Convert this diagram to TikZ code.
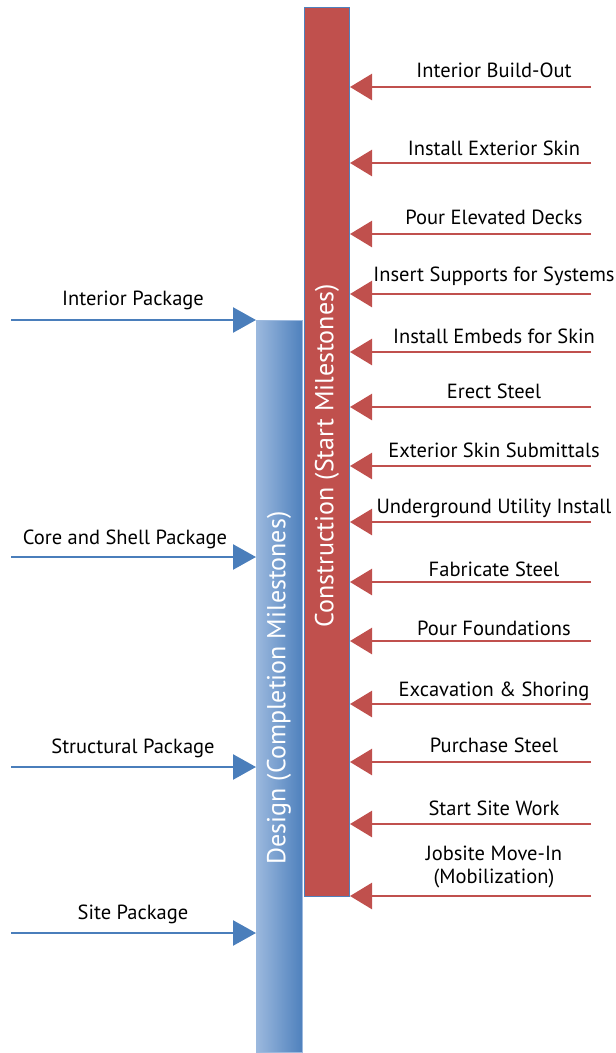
\documentclass[tikz,border=0pt]{standalone}
\usepackage{fontspec}
\setmainfont{PT Sans}
\usetikzlibrary{arrows.meta}
\definecolor{redbar}{HTML}{C0504D}
\definecolor{bluebar}{HTML}{4F81BD}
\definecolor{bluelight}{HTML}{9CB9DE}
\definecolor{blueline}{HTML}{4A7EBB}
\begin{document}
\begin{tikzpicture}[x=1pt,y=-1pt,
  lbl/.style={font=\fontsize{20.5}{23.5}\selectfont, align=center, inner sep=0pt},
  redarrow/.style={draw=redbar, line width=2.5pt, -{Triangle[length=22pt,width=26pt]}},
  bluearrow/.style={draw=blueline, line width=2.5pt, -{Triangle[length=23pt,width=25pt]}},
  barlabel/.style={text=white, rotate=90, font=\fontsize{26}{30}\selectfont, inner sep=0pt}]
\useasboundingbox (0,0) rectangle (616,1053);
% bars
\shade[left color=bluelight, right color=bluebar, draw=bluelight, line width=0.8pt] (256,320) rectangle (302,1052);
\draw[fill=redbar, draw=bluebar, line width=0.8pt] (304,7) rectangle (349,896);
\node[barlabel] (clab) at (327,456) {Construction (Start Milestones)};
\node[barlabel] (dlab) at (279,688) {Design (Completion Milestones)};
% red arrows
\foreach \y/\t/\ty [count=\i] in {
  87/Interior Build-Out/70,
  163/Install Exterior Skin/148,
  234/Pour Elevated Decks/217,
  294/Insert Supports for Systems/276,
  352/Install Embeds for Skin/336,
  407/Erect Steel/391,
  466/Exterior Skin Submittals/450,
  522/Underground Utility Install/508,
  582/Fabricate Steel/569,
  641/Pour Foundations/628,
  704/Excavation \& Shoring/691,
  762/Purchase Steel/745,
  824/Start Site Work/808,
  896/{Jobsite Move-In\\(Mobilization)}/867}{
  \coordinate (rs\i) at (591,\y);
  \coordinate (re\i) at (350,\y);
  \draw[redarrow] (rs\i) -- (re\i);
  \node[lbl] (rl\i) at (494,\ty) {\t};
}
% blue arrows
\foreach \y/\t/\x/\ty [count=\i] in {
  320/Interior Package/133/300,
  557/Core and Shell Package/125/539,
  767/Structural Package/133/748,
  933/Site Package/133/914}{
  \coordinate (bs\i) at (11,\y);
  \coordinate (be\i) at (256,\y);
  \draw[bluearrow] (bs\i) -- (be\i);
  \node[lbl] (bl\i) at (\x,\ty) {\t};
}
\end{tikzpicture}
\end{document}
